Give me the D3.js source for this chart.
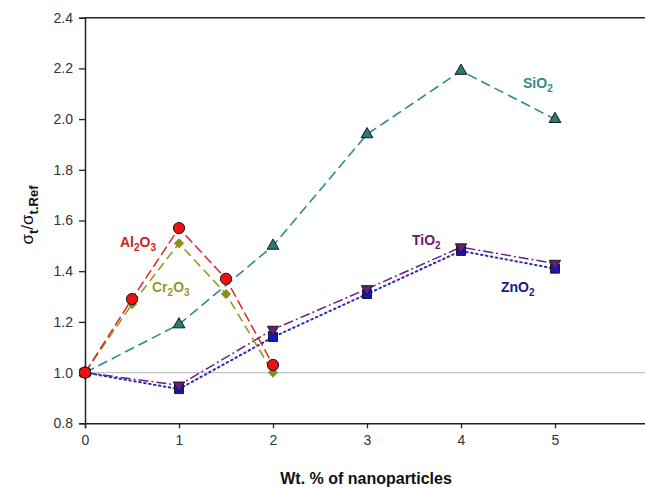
<!DOCTYPE html>
<html><head><meta charset="utf-8">
<script src="https://cdn.jsdelivr.net/npm/d3@7"></script>
<style>body{margin:0;background:#fff}svg{display:block;font-family:"Liberation Sans",Arial,sans-serif}</style>
</head><body><svg id="c" width="645" height="489"></svg>
<script>
const xTicks=[0,1,2,3,4,5,6];
const yTicks=[0.8,1.0,1.2,1.4,1.6,1.8,2.0,2.2,2.4];
const alX=[0,0.5,1,1.5,2], alY=[1.0,1.29,1.57,1.37,1.03];
const crX=[0,0.5,1,1.5,2], crY=[1.0,1.27,1.51,1.31,1.0];
const siX=[0,1,2,3,4,5], siY=[1.0,1.19,1.50,1.94,2.19,2.0];
const tiX=[0,1,2,3,4,5], tiY=[1.0,0.95,1.17,1.33,1.495,1.43];
const znX=[0,1,2,3,4,5], znY=[1.0,0.935,1.14,1.31,1.48,1.41];
const seriesNames=["ZnO2","TiO2","SiO2","Cr2O3","Al2O3"];

const svg=d3.select("#c");
const x=d3.scaleLinear().domain([0,6]).range([85,649]);
const y=d3.scaleLinear().domain([0.8,2.4]).range([423.3,17.7]);

svg.append("line").attr("x1",x(0)).attr("x2",645).attr("y1",y(1)).attr("y2",y(1))
  .attr("stroke","#c4c4c4").attr("stroke-width",1.2);
svg.append("line").attr("x1",x(0)).attr("x2",645).attr("y1",y(2.4)).attr("y2",y(2.4))
  .attr("stroke","#222").attr("stroke-width",1.5);

const xa=svg.append("g").attr("transform",`translate(0,${y(0.8)})`)
 .call(d3.axisBottom(x).tickValues(xTicks).tickFormat(d3.format("d")).tickSize(5).tickPadding(7));
const ya=svg.append("g").attr("transform",`translate(${x(0)},0)`)
 .call(d3.axisLeft(y).tickValues(yTicks).tickFormat(d3.format(".1f")).tickSize(6).tickPadding(6));
[xa,ya].forEach(a=>{
  a.select(".domain").attr("stroke","#222").attr("stroke-width",1.5);
  a.selectAll(".tick line").attr("stroke","#222").attr("stroke-width",1.3);
  a.selectAll("text").attr("font-size",14).attr("fill","#333").attr("font-family","Liberation Sans, Arial, sans-serif");
});

const line=d3.line().x(d=>x(d[0])).y(d=>y(d[1]));
const zip=(a,b)=>a.map((v,i)=>[v,b[i]]);
const cfg={
 ZnO2:{d:zip(znX,znY),c:"#2a2ab8",dash:"1.5,3.5",cap:"round",w:2,m:"square",f:"#1414c8"},
 TiO2:{d:zip(tiX,tiY),c:"#6e1f7a",dash:"10,3,2,3",cap:"butt",w:1.5,m:"tdown",f:"#6a1a80"},
 SiO2:{d:zip(siX,siY),c:"#2e8c8a",dash:"10,5",cap:"butt",w:1.6,m:"tup",f:"#2a7a72"},
 Cr2O3:{d:zip(crX,crY),c:"#999a22",dash:"9,5",cap:"butt",w:1.6,m:"diamond",f:"#8c8c1a"},
 Al2O3:{d:zip(alX,alY),c:"#d82828",dash:"10,4",cap:"butt",w:1.5,m:"circle",f:"#ee1111"}
};
seriesNames.forEach(n=>{
  const s=cfg[n];
  svg.append("path").datum(s.d).attr("d",line).attr("fill","none").attr("stroke",s.c)
   .attr("stroke-width",s.w).attr("stroke-dasharray",s.dash).attr("stroke-linecap",s.cap);
});
const sym={square:d3.symbolSquare,tdown:d3.symbolTriangle,tup:d3.symbolTriangle,diamond:d3.symbolSquare,circle:d3.symbolCircle};
const size={square:80,tdown:55,tup:60,diamond:52,circle:100};
const rot={tdown:" rotate(180)",diamond:" rotate(45)"};
seriesNames.forEach(n=>{
  const s=cfg[n];
  svg.append("g").selectAll("path").data(s.d).join("path")
   .attr("d",d3.symbol().type(sym[s.m]).size(size[s.m]))
   .attr("transform",d=>`translate(${x(d[0])},${y(d[1])})${rot[s.m]||""}`)
   .attr("fill",s.f).attr("stroke",s.m==="diamond"?"none":"#1a1a1a").attr("stroke-width",1);
});

function lab(px,py,parts,col){
  const t=svg.append("text").attr("x",px).attr("y",py).attr("fill",col)
   .attr("font-size",14).attr("font-weight","bold");
  parts.forEach((p,i)=>{
    const ts=t.append("tspan").text(p);
    if(i>0){
      if(i%2===1){ts.attr("font-size",10).attr("dy",4);}
      else{ts.attr("dy",-4);}
    }
  });
}
lab(120,247,["Al","2","O","3"],"#cc2222");
lab(152,292,["Cr","2","O","3"],"#999922");
lab(523,88,["SiO","2"],"#2e8c8a");
lab(412,245,["TiO","2"],"#6a1a6a");
lab(501,292,["ZnO","2"],"#1a1a8a");

svg.append("text").attr("x",366).attr("y",484).attr("text-anchor","middle")
 .attr("font-size",16).attr("font-weight","bold").attr("fill","#111").text("Wt. % of nanoparticles");
const yt=svg.append("text").attr("transform","translate(33,215) rotate(-90)").attr("text-anchor","middle")
 .attr("font-size",17).attr("fill","#111");
yt.append("tspan").text("σ");
yt.append("tspan").attr("font-size",13).attr("dy",5).attr("font-weight","bold").text("t");
yt.append("tspan").attr("dy",-5).text("/σ");
yt.append("tspan").attr("font-size",13).attr("dy",5).attr("font-weight","bold").text("t.Ref");
</script></body></html>
